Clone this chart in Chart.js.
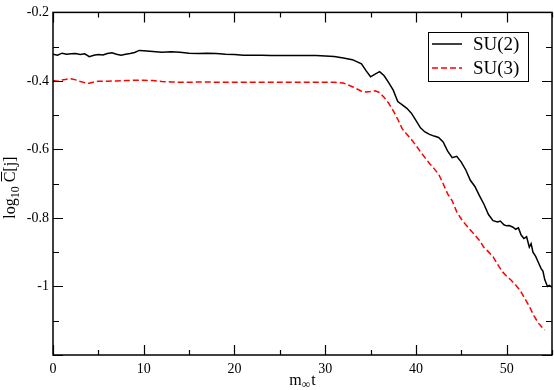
<!DOCTYPE html>
<html>
<head>
<meta charset="utf-8">
<script src="https://cdn.jsdelivr.net/npm/chart.js@4"></script>
<style>
  html, body { margin: 0; padding: 0; background: #fff; }
  #wrap { width: 554px; height: 390px; }
</style>
</head>
<body>
<div id="wrap"><canvas id="chart" width="554" height="390"></canvas></div>
<script>
const labels = ["SU(2)", "SU(3)"];

const tSU2 = [0, 0.5, 1, 1.5, 2, 2.5, 3, 3.5, 4, 4.5, 5, 5.5, 6, 6.5, 7, 7.5, 8, 8.5, 9, 9.5,
  10, 11, 12, 13, 14, 15, 16, 17, 18, 19, 20, 21, 22, 23, 24, 25, 26, 27, 28, 29, 30, 31, 32, 33,
  34, 34.5, 35, 35.5, 36, 36.5, 37, 37.5, 38, 38.5, 39, 39.5, 40, 40.5, 41, 41.5, 42, 42.5, 43,
  43.5, 44, 44.5, 45, 45.5, 46, 46.5, 47, 47.5, 48, 48.5, 49, 49.3, 49.7, 50, 50.3, 50.7, 51,
  51.3, 51.6, 51.9, 52.2, 52.5, 52.7, 52.9, 53.2, 53.5, 53.8, 54, 54.2, 54.5, 54.7, 55];
const su2 = [-0.322, -0.325, -0.319, -0.322, -0.321, -0.320, -0.323, -0.321, -0.329, -0.325,
  -0.323, -0.324, -0.320, -0.318, -0.322, -0.325, -0.322, -0.320, -0.317, -0.311,
  -0.312, -0.314, -0.316, -0.315, -0.316, -0.319, -0.320, -0.319, -0.320, -0.322, -0.323,
  -0.325, -0.325, -0.325, -0.326, -0.326, -0.326, -0.326, -0.326, -0.326, -0.327, -0.329,
  -0.333, -0.338, -0.350, -0.370, -0.388, -0.380, -0.373, -0.385, -0.405, -0.427, -0.460,
  -0.470, -0.480, -0.494, -0.515, -0.537, -0.549, -0.556, -0.561, -0.565, -0.578, -0.605,
  -0.624, -0.620, -0.637, -0.660, -0.690, -0.708, -0.735, -0.760, -0.790, -0.808, -0.812,
  -0.809, -0.820, -0.823, -0.822, -0.827, -0.833, -0.829, -0.850, -0.860, -0.855, -0.885,
  -0.875, -0.900, -0.912, -0.930, -0.948, -0.955, -0.980, -1.000, -0.997, -1.002];

const tSU3 = [0, 0.5, 1, 1.5, 2, 2.5, 3, 3.5, 4, 4.5, 5, 6, 7, 8, 9, 10, 11, 12, 13, 14, 15, 16,
  17, 18, 19, 20, 21, 22, 23, 24, 25, 26, 27, 28, 29, 30, 31, 32, 33, 34, 34.5, 35, 35.5, 36,
  36.5, 37, 37.5, 38, 38.5, 39, 39.5, 40, 40.5, 41, 41.5, 42, 42.5, 43, 43.5, 44, 44.5, 45,
  45.5, 46, 46.5, 47, 47.5, 48, 48.5, 49, 49.5, 50, 50.5, 51, 51.5, 52, 52.5, 53, 53.5, 54, 54.2];
const su3 = [-0.399, -0.401, -0.397, -0.395, -0.394, -0.397, -0.402, -0.405, -0.407, -0.403,
  -0.401, -0.401, -0.400, -0.399, -0.398, -0.398, -0.399, -0.402, -0.403, -0.404, -0.404,
  -0.403, -0.403, -0.404, -0.404, -0.404, -0.404, -0.404, -0.404, -0.404, -0.404, -0.404,
  -0.404, -0.404, -0.404, -0.404, -0.404, -0.406, -0.417, -0.430, -0.432, -0.431, -0.429,
  -0.434, -0.448, -0.465, -0.487, -0.512, -0.540, -0.556, -0.571, -0.588, -0.607, -0.624,
  -0.641, -0.656, -0.672, -0.700, -0.730, -0.750, -0.782, -0.803, -0.820, -0.835, -0.850,
  -0.866, -0.886, -0.899, -0.913, -0.935, -0.956, -0.970, -0.982, -0.996, -1.012, -1.035,
  -1.058, -1.085, -1.107, -1.122, -1.127];

const xTicks = [0, 10, 20, 30, 40, 50];
const yTicks = ["-0.2", "-0.4", "-0.6", "-0.8", "-1"];

const serif = "'Liberation Serif', 'Times New Roman', serif";

// frame, inward ticks on all four sides, axis titles and the boxed legend
const decor = {
  id: "decor",
  afterDraw(chart) {
    const ctx = chart.ctx;
    const a = chart.chartArea;
    const xs = chart.scales.x, ys = chart.scales.y;
    ctx.save();
    ctx.strokeStyle = "#000";
    ctx.lineWidth = 1.5;
    ctx.strokeRect(a.left, a.top, a.right - a.left, a.bottom - a.top);

    ctx.lineWidth = 1.2;
    ctx.beginPath();
    for (let v = 0; v <= 55; v += 5) {
      const px = Math.round(xs.getPixelForValue(v)) + 0.5;
      const len = v % 10 === 0 ? 10 : 5;
      ctx.moveTo(px, a.bottom); ctx.lineTo(px, a.bottom - len);
      ctx.moveTo(px, a.top); ctx.lineTo(px, a.top + len);
    }
    for (let i = 0; i <= 10; i++) {
      const v = -1.2 + i * 0.1;
      const py = Math.round(ys.getPixelForValue(v)) + 0.5;
      const len = i % 2 === 0 ? 10 : 6;
      ctx.moveTo(a.left, py); ctx.lineTo(a.left + len, py);
      ctx.moveTo(a.right, py); ctx.lineTo(a.right - len, py);
    }
    ctx.stroke();

    // x title: m with subscript infinity, then t
    ctx.fillStyle = "#000";
    ctx.textBaseline = "alphabetic";
    ctx.textAlign = "left";
    const big = "16px " + serif, small = "12px " + serif;
    ctx.font = big; const wm = ctx.measureText("m").width;
    ctx.font = small; const wi = ctx.measureText("\u221e").width;
    ctx.font = big; const wt = ctx.measureText("t").width;
    let x0 = (a.left + a.right) / 2 - (wm + wi + 1 + wt) / 2;
    const by = 385;
    ctx.font = big; ctx.fillText("m", x0, by);
    ctx.font = small; ctx.fillText("\u221e", x0 + wm, by + 3);
    ctx.font = big; ctx.fillText("t", x0 + wm + wi + 1, by);

    // y title: log_10 C-bar [j], rotated
    ctx.translate(15, (a.top + a.bottom) / 2 + 4);
    ctx.rotate(-Math.PI / 2);
    ctx.font = big; const wl = ctx.measureText("log").width;
    ctx.font = small; const w10 = ctx.measureText("10").width;
    ctx.font = big;
    const wc = ctx.measureText("C").width, wj = ctx.measureText("[j]").width;
    const total = wl + w10 + 4 + wc + wj;
    let x = -total / 2;
    ctx.fillText("log", x, 0); x += wl;
    ctx.font = small; ctx.fillText("10", x, 4); x += w10 + 4;
    ctx.font = big; ctx.fillText("C", x, 0);
    ctx.lineWidth = 1;
    ctx.beginPath(); ctx.moveTo(x + 1, -13.5); ctx.lineTo(x + wc, -13.5); ctx.stroke();
    x += wc;
    ctx.fillText("[j]", x, 0);
    ctx.restore();

    // legend box
    ctx.save();
    const lx = 428, ly = 32, lw = 100, lh = 49;
    ctx.fillStyle = "#fff";
    ctx.fillRect(lx, ly, lw, lh);
    ctx.strokeStyle = "#000";
    ctx.lineWidth = 1;
    ctx.strokeRect(lx + 0.5, ly + 0.5, lw, lh);
    chart.data.datasets.forEach((ds, i) => {
      const yy = 44 + i * 24;
      ctx.strokeStyle = ds.borderColor;
      ctx.lineWidth = ds.borderWidth;
      ctx.setLineDash(ds.borderDash || []);
      ctx.beginPath(); ctx.moveTo(432, yy); ctx.lineTo(462, yy); ctx.stroke();
      ctx.setLineDash([]);
      ctx.fillStyle = "#000";
      ctx.font = "19px " + serif;
      ctx.textBaseline = "middle";
      ctx.fillText(ds.label, 473, yy + 1);
    });
    ctx.restore();
  }
};

new Chart(document.getElementById("chart"), {
  type: "line",
  data: {
    datasets: [
      {
        label: labels[0],
        data: tSU2.map((t, i) => ({ x: t, y: su2[i] })),
        borderColor: "#000000",
        borderWidth: 1.5,
        pointRadius: 0,
        tension: 0,
        fill: false
      },
      {
        label: labels[1],
        data: tSU3.map((t, i) => ({ x: t, y: su3[i] })),
        borderColor: "#ff0000",
        borderWidth: 1.5,
        borderDash: [6, 3],
        pointRadius: 0,
        tension: 0,
        fill: false
      }
    ]
  },
  options: {
    responsive: false,
    animation: false,
    layout: { padding: { top: 8, right: 2, left: 0, bottom: 0 } },
    plugins: { legend: { display: false }, tooltip: { enabled: false } },
    scales: {
      x: {
        type: "linear",
        min: 0,
        max: 55,
        afterFit(s) { s.height = 35; },
        afterBuildTicks(s) { s.ticks = xTicks.map(v => ({ value: v })); },
        grid: { display: false, drawTicks: false },
        border: { display: false },
        ticks: { color: "#000", padding: 6, font: { family: serif, size: 14 }, maxRotation: 0 }
      },
      y: {
        type: "linear",
        min: -1.2,
        max: -0.2,
        afterFit(s) { s.width = 53; },
        afterBuildTicks(s) { s.ticks = yTicks.map(v => ({ value: parseFloat(v) })); },
        grid: { display: false, drawTicks: false },
        border: { display: false },
        ticks: {
          color: "#000", padding: 4, font: { family: serif, size: 14 },
          callback: v => yTicks.find(l => Math.abs(parseFloat(l) - v) < 1e-6) || ""
        }
      }
    }
  },
  plugins: [decor]
});
</script>
</body>
</html>
